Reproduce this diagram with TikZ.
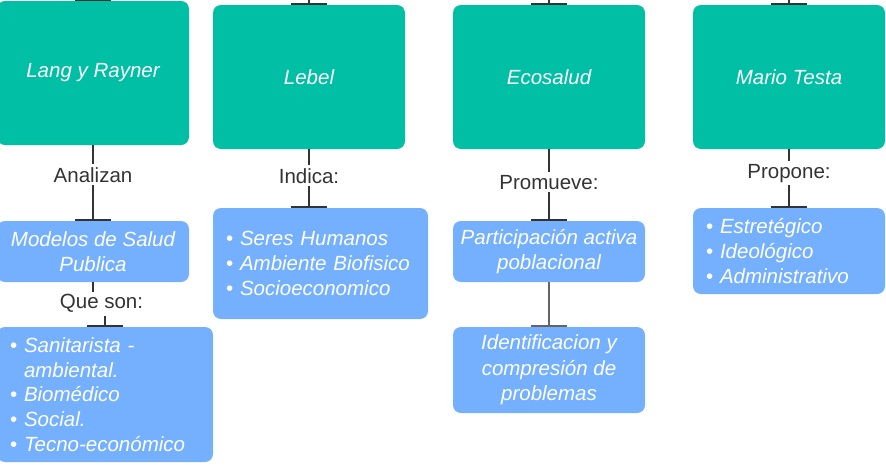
\documentclass[tikz,border=0pt]{standalone}
\usepackage{fontspec}
\setmainfont{Liberation Sans}
\usetikzlibrary{arrows.meta}
\definecolor{tealbox}{RGB}{0,191,165}
\definecolor{bluebox}{RGB}{117,176,255}
\definecolor{ink}{RGB}{51,51,51}
\definecolor{inkgray}{RGB}{100,100,100}
\newcommand{\itm}[1]{\textbullet\ \textit{#1}}
\begin{document}
\begin{tikzpicture}[x=1pt,y=-1pt,
  titlebox/.style={rectangle, rounded corners=8pt, fill=tealbox, text=white,
    font=\fontsize{20.5}{25.5}\selectfont\itshape, inner sep=0pt, align=center},
  subbox/.style={rectangle, rounded corners=8pt, fill=bluebox, text=white,
    font=\fontsize{20.5}{25.5}\selectfont\itshape, inner sep=0pt, align=center},
  listbox/.style={rectangle, rounded corners=8pt, fill=bluebox, text=white,
    font=\fontsize{20.5}{24.8}\selectfont, inner xsep=13pt, inner ysep=0pt, align=left},
  conn/.style={draw=ink, line width=2pt, -{Bar[width=36pt]}},
  connlight/.style={draw=inkgray, line width=1.5pt, -{Bar[width=36pt]}},
  lbl/.style={fill=white, text=ink, font=\fontsize{20.5}{24.5}\selectfont, inner xsep=2pt, inner ysep=3pt, anchor=base}
]
\clip (0,0) rectangle (886,464);
\fill[white] (0,0) rectangle (886,464);

% title boxes
\node[titlebox, minimum width=192pt, minimum height=144pt] (lang) at (93,73) {Lang y Rayner};
\node[titlebox, minimum width=192pt, minimum height=144pt] (lebel) at (309,77) {Lebel};
\node[titlebox, minimum width=192pt, minimum height=144pt] (eco) at (549,77) {Ecosalud};
\node[titlebox, minimum width=192pt, minimum height=144pt] (mario) at (789,77) {Mario Testa};

% second row
\node[subbox, minimum width=192pt, minimum height=61pt] (modelos) at (93,251.5) {Modelos de Salud\\Publica};
\node[listbox, text width=190pt, minimum height=135pt] (tipos) at (105,394.5)
  {\itm{Sanitarista -}\\\phantom{\textbullet\ }\textit{ambiental.}\\\itm{Biomédico}\\\itm{Social.}\\\itm{Tecno-económico}};
\node[listbox, text width=189pt, minimum height=111pt] (lebellist) at (320.5,263.5)
  {\itm{Seres Humanos}\\\itm{Ambiente Biofisico}\\\itm{Socioeconomico}};
\node[subbox, minimum width=192pt, minimum height=61pt] (partic) at (549,251.5) {Participación activa\\poblacional};
\node[subbox, minimum width=192pt, minimum height=86pt] (ident) at (549,370) {Identificacion y\\compresión de\\problemas};
\node[listbox, text width=166pt, minimum height=86pt] (mariolist) at (789,251)
  {\itm{Estretégico}\\\itm{Ideológico}\\\itm{Administrativo}};

% top stubs
\coordinate (t1) at (93,-12);
\coordinate (t2) at (309,-12);
\coordinate (t3) at (549,-12);
\coordinate (t4) at (789,-12);
\draw[conn] (t1) -- (lang.north);
\draw[conn] (t2) -- (lebel.north);
\draw[conn] (t3) -- (eco.north);
\draw[conn] (t4) -- (mario.north);

% connectors
\draw[conn] (lang.south) -- (modelos.north);
\node[lbl] (l1) at (93,182) {Analizan};

\coordinate (qs1) at (93,292);
\coordinate (qs2) at (105,316);
\draw[draw=ink, line width=2pt] (modelos.south) -- (qs1);
\draw[conn] (qs2) -- (tipos.north);
\node[text=ink, font=\fontsize{20.5}{24.5}\selectfont, inner sep=0pt, anchor=base] (l2) at (101.5,308) {Que son:};

\draw[conn] (lebel.south) -- (lebel.south |- lebellist.north);
\node[lbl] (l3) at (309,183) {Indica:};

\draw[conn] (eco.south) -- (partic.north);
\node[lbl] (l4) at (549,189) {Promueve:};

\draw[connlight] (partic.south) -- (ident.north);

\draw[conn] (mario.south) -- (mariolist.north);
\node[lbl] (l5) at (789,178) {Propone:};
\end{tikzpicture}
\end{document}
